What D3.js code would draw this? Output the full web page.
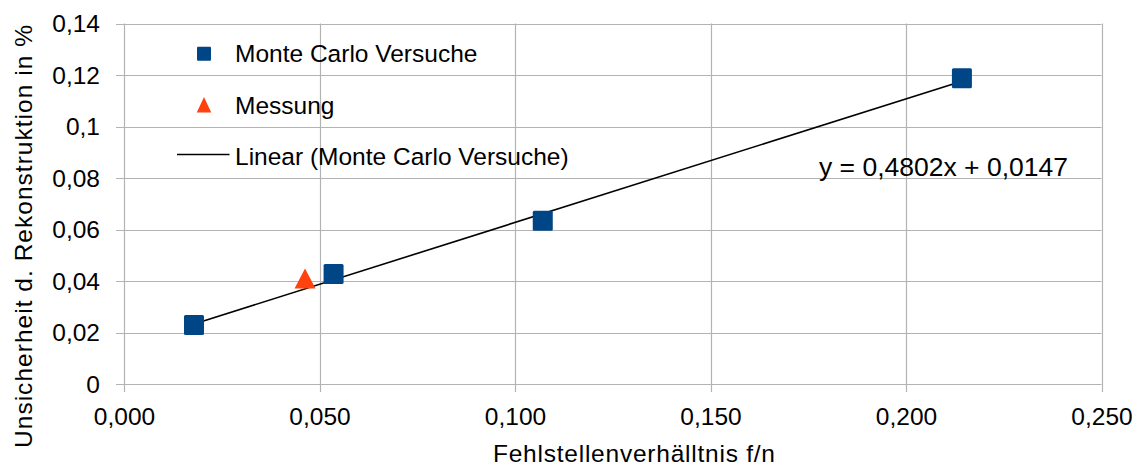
<!DOCTYPE html>
<html>
<head>
<meta charset="utf-8">
<script src="https://cdn.jsdelivr.net/npm/d3@7"></script>
<style>
  html, body { margin: 0; padding: 0; background: #fff; }
  svg { display: block; font-family: "Liberation Sans", Arial, sans-serif; }
</style>
</head>
<body>
<svg id="chart" width="1139" height="465"></svg>
<script>
// Monte Carlo runs: defect ratio f/n vs. reconstruction uncertainty (%)
const monteCarloX = [0.0179, 0.0536, 0.1071, 0.2143];
const monteCarloY = [0.0229, 0.0427, 0.0634, 0.1187];
// Measurement
const messungX = [0.0463];
const messungY = [0.0410];
// Linear trend of the Monte Carlo runs
const trendSlope = 0.4802;
const trendIntercept = 0.0147;
const trendLabel = "y = 0,4802x + 0,0147";

const xTicks = [0, 0.05, 0.1, 0.15, 0.2, 0.25];
const yTicks = [0, 0.02, 0.04, 0.06, 0.08, 0.1, 0.12, 0.14];
const xTickLabels = ["0,000", "0,050", "0,100", "0,150", "0,200", "0,250"];
const yTickLabels = ["0", "0,02", "0,04", "0,06", "0,08", "0,1", "0,12", "0,14"];

const legendItems = ["Monte Carlo Versuche", "Messung", "Linear (Monte Carlo Versuche)"];

const svg = d3.select("#chart");
const plotLeft = 124, plotRight = 1101.5, plotTop = 23.5, plotBottom = 384;

const x = d3.scaleLinear().domain([0, 0.25]).range([plotLeft, plotRight]);
const y = d3.scaleLinear().domain([0, 0.14]).range([plotBottom, plotTop]);

const gridColor = "#b3b3b3";

// grid lines
svg.append("g").selectAll("line").data(xTicks).join("line")
  .attr("x1", d => Math.round(x(d)) + 0.5).attr("x2", d => Math.round(x(d)) + 0.5)
  .attr("y1", plotTop).attr("y2", plotBottom + 8)
  .attr("stroke", gridColor).attr("stroke-width", 1.2);
svg.append("g").selectAll("line").data(yTicks).join("line")
  .attr("y1", d => Math.round(y(d)) + 0.5).attr("y2", d => Math.round(y(d)) + 0.5)
  .attr("x1", plotLeft - 8).attr("x2", plotRight)
  .attr("stroke", gridColor).attr("stroke-width", 1.2);

// axes (labels only, ticks drawn with the grid)
const xAxis = d3.axisBottom(x).tickValues(xTicks)
  .tickFormat((d, i) => xTickLabels[i]).tickSize(0).tickPadding(0);
const gx = svg.append("g").attr("transform", `translate(0,${plotBottom})`).call(xAxis);
gx.select(".domain").remove();
gx.selectAll("text").attr("font-size", 24.5).attr("fill", "#000")
  .attr("font-family", "Liberation Sans, Arial, sans-serif")
  .attr("dy", null).attr("y", 41);

const yAxis = d3.axisLeft(y).tickValues(yTicks)
  .tickFormat((d, i) => yTickLabels[i]).tickSize(0).tickPadding(0);
const gy = svg.append("g").call(yAxis);
gy.select(".domain").remove();
gy.selectAll(".tick").attr("transform", d => `translate(100,${y(d)})`);
gy.selectAll("text").attr("font-size", 24.5).attr("fill", "#000")
  .attr("font-family", "Liberation Sans, Arial, sans-serif")
  .attr("x", 0).attr("dy", null).attr("y", 8.8).attr("text-anchor", "end");

// axis titles
svg.append("text")
  .attr("x", 634).attr("y", 461.5)
  .attr("text-anchor", "middle").attr("font-size", 24.5).attr("fill", "#000")
  .attr("textLength", 282).attr("lengthAdjust", "spacing")
  .text("Fehlstellenverhälltnis f/n");
svg.append("text")
  .attr("transform", "translate(32,236.5) rotate(-90)")
  .attr("text-anchor", "middle").attr("font-size", 24.5).attr("fill", "#000")
  .attr("textLength", 423).attr("lengthAdjust", "spacing")
  .text("Unsicherheit d. Rekonstruktion in %");

// trend line over the Monte Carlo range
const xMin = d3.min(monteCarloX), xMax = d3.max(monteCarloX);
svg.append("line")
  .attr("x1", x(xMin)).attr("y1", y(trendSlope * xMin + trendIntercept))
  .attr("x2", x(xMax)).attr("y2", y(trendSlope * xMax + trendIntercept))
  .attr("stroke", "#000").attr("stroke-width", 1.6);

// Monte Carlo markers
const sq = 20;
svg.append("g").selectAll("rect").data(monteCarloX.map((v, i) => [v, monteCarloY[i]])).join("rect")
  .attr("x", d => x(d[0]) - sq / 2).attr("y", d => y(d[1]) - sq / 2)
  .attr("width", sq).attr("height", sq).attr("rx", 1.5)
  .attr("fill", "#004586");

// triangle marker centred on its bounding box
const triPath = (w, h) => {
  const p = d3.path();
  p.moveTo(0, -h / 2);
  p.lineTo(w / 2, h / 2);
  p.lineTo(-w / 2, h / 2);
  p.closePath();
  return p.toString();
};

// measurement marker
svg.append("g").selectAll("path").data(messungX.map((v, i) => [v, messungY[i]])).join("path")
  .attr("d", triPath(21, 20))
  .attr("transform", d => `translate(${x(d[0])},${y(d[1])})`)
  .attr("fill", "#ff420e");

// trend equation
svg.append("text")
  .attr("x", 819).attr("y", 176)
  .attr("font-size", 26.5).attr("fill", "#000")
  .attr("textLength", 249).attr("lengthAdjust", "spacing")
  .text(trendLabel);

// legend
const lg = svg.append("g");
lg.append("rect").attr("x", 197).attr("y", 46.7).attr("width", 14).attr("height", 14)
  .attr("rx", 1).attr("fill", "#004586");
lg.append("path").attr("d", triPath(14.5, 15.5))
  .attr("transform", "translate(204,104.8)").attr("fill", "#ff420e");
lg.append("line").attr("x1", 177).attr("x2", 229.5).attr("y1", 154.5).attr("y2", 154.5)
  .attr("stroke", "#000").attr("stroke-width", 1.6);
const legendY = [62, 113.5, 165];
lg.selectAll("text").data(legendItems).join("text")
  .attr("x", 235).attr("y", (d, i) => legendY[i])
  .attr("font-size", 24.5).attr("fill", "#000")
  .text(d => d);
</script>
</body>
</html>
